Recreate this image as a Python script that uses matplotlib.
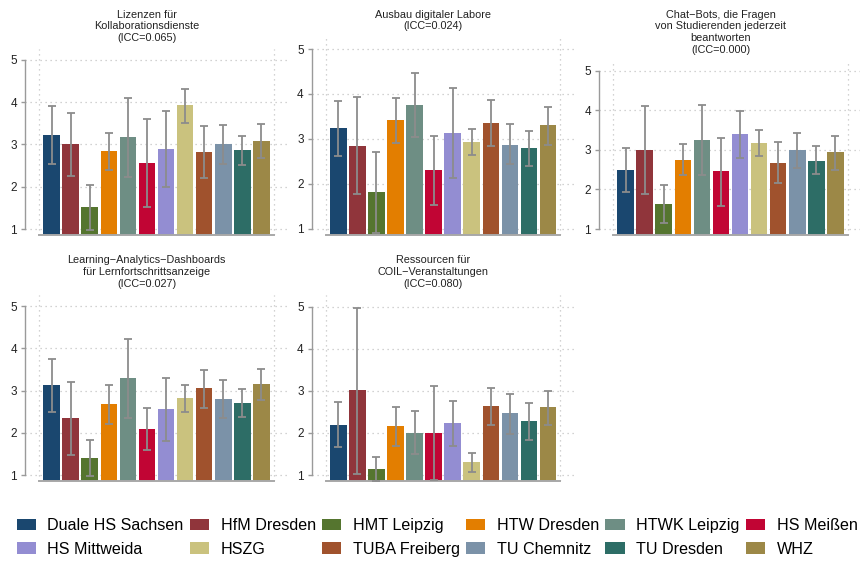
import numpy as np
import matplotlib
matplotlib.use("Agg")
import matplotlib.pyplot as plt
from matplotlib.patches import Patch

plt.rcParams['font.family'] = ['Liberation Sans', 'DejaVu Sans']

institutions = ["Duale HS Sachsen", "HfM Dresden", "HMT Leipzig", "HTW Dresden",
                "HTWK Leipzig", "HS Meißen", "HS Mittweida", "HSZG",
                "TUBA Freiberg", "TU Chemnitz", "TU Dresden", "WHZ"]
colors = ["#1a476f", "#90353b", "#55752f", "#e37e00", "#6e8e84", "#c10534",
          "#938dd2", "#cac27e", "#a0522d", "#7b92a8", "#2d6d66", "#9c8847"]

titles = [
    "Lizenzen für\nKollaborationsdienste\n(ICC=0.065)",
    "Ausbau digitaler Labore\n(ICC=0.024)",
    "Chat\u2212Bots, die Fragen\nvon Studierenden jederzeit\nbeantworten\n(ICC=0.000)",
    "Learning\u2212Analytics\u2212Dashboards\nfür Lernfortschrittsanzeige\n(ICC=0.027)",
    "Ressourcen für\nCOIL\u2212Veranstaltungen\n(ICC=0.080)",
]

means_lizenzen = [3.23, 3.01, 1.51, 2.85, 3.18, 2.56, 2.89, 3.93, 2.83, 3.01, 2.86, 3.08]
lo_lizenzen    = [2.55, 2.26, 0.98, 2.40, 2.23, 1.52, 1.99, 3.52, 2.21, 2.54, 2.51, 2.67]
hi_lizenzen    = [3.90, 3.75, 2.03, 3.27, 4.11, 3.61, 3.79, 4.32, 3.44, 3.46, 3.21, 3.48]

means_labore = [3.24, 2.85, 1.81, 3.41, 3.75, 2.30, 3.13, 2.93, 3.36, 2.87, 2.79, 3.30]
lo_labore    = [2.62, 1.78, 0.90, 2.91, 3.04, 1.53, 2.12, 2.63, 2.85, 2.43, 2.40, 2.87]
hi_labore    = [3.84, 3.94, 2.71, 3.90, 4.47, 3.07, 4.13, 3.22, 3.87, 3.33, 3.18, 3.70]

means_chatbots = [2.50, 2.99, 1.63, 2.74, 3.24, 2.46, 3.39, 3.18, 2.68, 2.99, 2.73, 2.94]
lo_chatbots    = [1.94, 1.88, 1.15, 2.36, 2.36, 1.59, 2.79, 2.85, 2.15, 2.55, 2.38, 2.50]
hi_chatbots    = [3.05, 4.11, 2.12, 3.15, 4.14, 3.31, 3.99, 3.51, 3.21, 3.43, 3.10, 3.35]

means_dashboards = [3.13, 2.34, 1.40, 2.68, 3.29, 2.09, 2.56, 2.82, 3.06, 2.80, 2.71, 3.15]
lo_dashboards    = [2.49, 1.47, 0.98, 2.21, 2.34, 1.60, 1.81, 2.49, 2.60, 2.34, 2.37, 2.79]
hi_dashboards    = [3.76, 3.21, 1.84, 3.13, 4.22, 2.58, 3.30, 3.14, 3.48, 3.26, 3.05, 3.52]

means_coil = [2.20, 3.01, 1.14, 2.16, 2.01, 2.01, 2.23, 1.30, 2.63, 2.47, 2.28, 2.61]
lo_coil    = [1.67, 1.03, 0.86, 1.70, 1.49, 0.89, 1.68, 1.06, 2.20, 1.97, 1.82, 2.19]
hi_coil    = [2.73, 4.98, 1.43, 2.62, 2.51, 3.12, 2.77, 1.52, 3.07, 2.93, 2.70, 3.00]

yticks = [1, 2, 3, 4, 5]

panels = [
    (titles[0], means_lizenzen, lo_lizenzen, hi_lizenzen),
    (titles[1], means_labore, lo_labore, hi_labore),
    (titles[2], means_chatbots, lo_chatbots, hi_chatbots),
    (titles[3], means_dashboards, lo_dashboards, hi_dashboards),
    (titles[4], means_coil, lo_coil, hi_coil),
]

W, H = 860, 561
fig = plt.figure(figsize=(W / 100, H / 100), dpi=100)

# layout in pixels: (spine x, y-of-5, y-of-1, title top)
layout = [
    (25.0, 60.0, 229.0, 9.5),
    (311.7, 49.0, 228.7, 9.5),
    (599.0, 70.7, 229.0, 9.5),
    (25.0, 306.3, 475.0, 255.0),
    (311.7, 306.7, 475.0, 255.0),
]

YLO, YHI = 0.86, 5.27
XLO, XHI = -1.40, 12.40
AX_W = 263.0
grey = "#9a9a9a"

for (title, m, lo, hi), (sx, p5, p1, tt) in zip(panels, layout):
    m = np.array(m); lo = np.array(lo); hi = np.array(hi)
    u = (p1 - p5) / 4.0
    bot_px = p1 + (1 - YLO) * u
    top_px = p5 - (YHI - 5) * u
    ax = fig.add_axes([sx / W, 1 - bot_px / H, AX_W / W, (bot_px - top_px) / H])
    x = np.arange(len(m))
    ax.set_xlim(XLO, XHI)
    ax.set_ylim(YLO, YHI)
    for yv in yticks:
        ax.axhline(yv, color="#c4c4c4", lw=0.9, ls=(0, (1, 3)), zorder=0)
    for xv in (-0.65, 11.65):
        ax.axvline(xv, color="#c4c4c4", lw=0.9, ls=(0, (1, 3)), zorder=0)
    ax.bar(x, m - YLO, bottom=YLO, width=0.875, color=colors, edgecolor="none", zorder=2)
    ax.errorbar(x, m, yerr=[m - lo, hi - m], fmt="none", ecolor="#8c8c8c",
                elinewidth=1.3, capsize=2.8, capthick=1.3, zorder=3)
    for s in ("top", "right"):
        ax.spines[s].set_visible(False)
    ax.spines["left"].set_bounds(1, 5)
    ax.spines["left"].set_color(grey)
    ax.spines["left"].set_linewidth(1.0)
    ax.spines["bottom"].set_bounds(-0.65, 11.65)
    ax.spines["bottom"].set_color("#a8a8a8")
    ax.spines["bottom"].set_linewidth(1.4)
    ax.set_yticks(yticks)
    ax.set_yticklabels([str(t) for t in yticks])
    ax.tick_params(axis="y", length=3.2, width=1.0, color=grey, pad=2.5,
                   labelsize=8.5, labelcolor="#222222")
    ax.set_xticks([])
    ax.patch.set_alpha(0)
    cx = (sx - 20 + sx + AX_W) / 2.0
    fig.text(cx / W, 1 - tt / H, title, ha="center", va="top", fontsize=7.8,
             linespacing=1.22, color="#222222")

handles = [Patch(facecolor=c, edgecolor="none") for c in colors]
order = []
for c in range(6):
    order += [c, c + 6]
fig.legend([handles[i] for i in order], [institutions[i] for i in order],
           ncol=6, loc="center", bbox_to_anchor=(437 / W, 1 - 537.5 / H),
           frameon=False, fontsize=11.6, handlelength=1.2, handleheight=0.75,
           handletextpad=0.7, columnspacing=0.4, labelspacing=0.55,
           borderaxespad=0, borderpad=0)

fig.savefig("out.png", dpi=100)
